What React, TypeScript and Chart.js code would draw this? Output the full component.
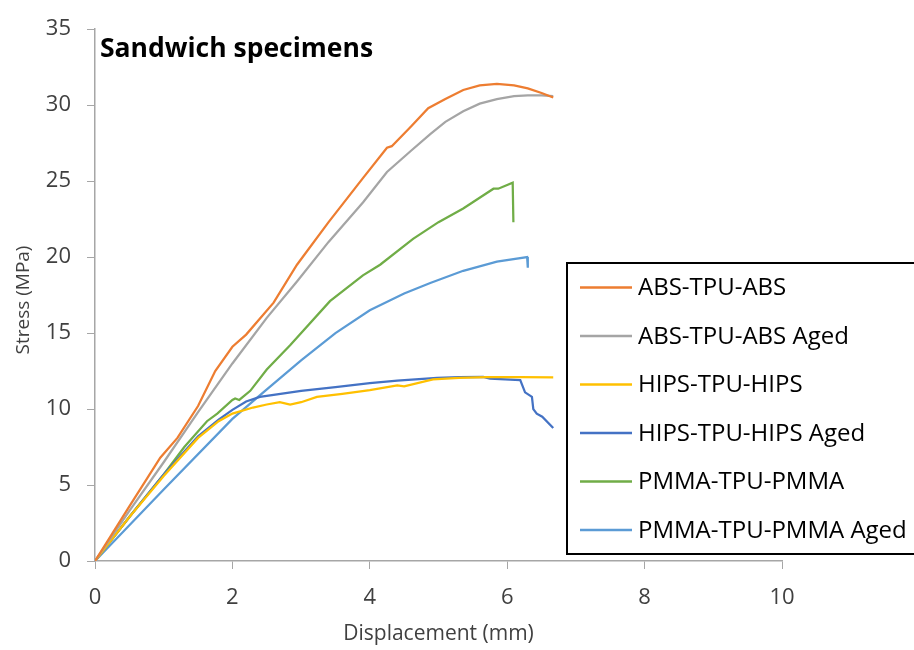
import React, { useEffect, useRef } from "react";
import { Chart, registerables } from "chart.js";

Chart.register(...registerables);

const SERIES_LABELS = [
  "ABS-TPU-ABS",
  "ABS-TPU-ABS Aged",
  "HIPS-TPU-HIPS",
  "HIPS-TPU-HIPS Aged",
  "PMMA-TPU-PMMA",
  "PMMA-TPU-PMMA Aged",
];

const ABS_X = [0, 0.5, 0.95, 1.2, 1.5, 1.75, 2.0, 2.2, 2.6, 2.94, 3.4, 3.9, 4.25, 4.32, 4.6, 4.85, 5.1, 5.36, 5.6, 5.85, 6.1, 6.3, 6.5, 6.67];
const ABS_Y = [0, 3.6, 6.8, 8.1, 10.2, 12.5, 14.1, 14.9, 17.0, 19.5, 22.3, 25.2, 27.2, 27.3, 28.6, 29.8, 30.4, 31.0, 31.3, 31.4, 31.3, 31.1, 30.8, 30.5];

const ABS_AGED_X = [0, 0.5, 1.0, 1.5, 2.0, 2.5, 2.94, 3.4, 3.9, 4.25, 4.6, 4.88, 5.1, 5.36, 5.6, 5.85, 6.1, 6.3, 6.5, 6.67];
const ABS_AGED_Y = [0, 3.3, 6.5, 9.8, 13.0, 16.0, 18.4, 21.0, 23.6, 25.6, 27.0, 28.1, 28.9, 29.6, 30.1, 30.4, 30.6, 30.65, 30.65, 30.6];

const HIPS_X = [0, 0.5, 1.0, 1.5, 1.8, 2.0, 2.3, 2.5, 2.69, 2.84, 3.0, 3.23, 3.6, 4.0, 4.4, 4.5, 4.92, 5.3, 5.7, 6.2, 6.67];
const HIPS_Y = [0, 2.9, 5.6, 8.1, 9.2, 9.7, 10.1, 10.3, 10.45, 10.3, 10.45, 10.8, 11.0, 11.25, 11.55, 11.5, 11.95, 12.05, 12.1, 12.1, 12.08];

const HIPS_AGED_X = [0, 0.5, 1.0, 1.5, 1.8, 2.0, 2.2, 2.4, 2.7, 3.0, 3.5, 4.0, 4.4, 4.98, 5.3, 5.65, 5.75, 6.19, 6.26, 6.36, 6.38, 6.43, 6.51, 6.67];
const HIPS_AGED_Y = [0, 2.9, 5.7, 8.2, 9.3, 9.95, 10.5, 10.8, 11.0, 11.2, 11.45, 11.7, 11.87, 12.05, 12.1, 12.12, 12.0, 11.9, 11.1, 10.8, 10.0, 9.7, 9.5, 8.75];

const PMMA_X = [0, 0.5, 1.0, 1.3, 1.63, 1.78, 2.0, 2.04, 2.1, 2.26, 2.5, 2.84, 3.42, 3.9, 4.15, 4.63, 5.0, 5.36, 5.8, 5.87, 6.08, 6.09];
const PMMA_Y = [0, 2.9, 5.7, 7.5, 9.2, 9.7, 10.6, 10.7, 10.6, 11.2, 12.6, 14.2, 17.1, 18.8, 19.5, 21.2, 22.3, 23.2, 24.5, 24.5, 24.9, 22.3];

const PMMA_AGED_X = [0, 1.0, 2.0, 2.45, 3.0, 3.5, 4.0, 4.5, 4.88, 5.36, 5.85, 6.29, 6.3];
const PMMA_AGED_Y = [0, 4.7, 9.35, 11.1, 13.2, 15.0, 16.5, 17.6, 18.3, 19.1, 19.7, 20.0, 19.3];

const COLORS = ["#ED7D31", "#A5A5A5", "#FFC000", "#4472C4", "#70AD47", "#5B9BD5"];

const X_TICKS = [0, 2, 4, 6, 8, 10];
const Y_TICKS = [0, 5, 10, 15, 20, 25, 30, 35];

const TITLE = "Sandwich specimens";
const X_TITLE = "Displacement (mm)";
const Y_TITLE = "Stress (MPa)";

const zip = (xs: number[], ys: number[]) => xs.map((x, i) => ({ x, y: ys[i] }));

const SERIES = [
  zip(ABS_X, ABS_Y),
  zip(ABS_AGED_X, ABS_AGED_Y),
  zip(HIPS_X, HIPS_Y),
  zip(HIPS_AGED_X, HIPS_AGED_Y),
  zip(PMMA_X, PMMA_Y),
  zip(PMMA_AGED_X, PMMA_AGED_Y),
];

const FONT = '"Open Sans", "DejaVu Sans", sans-serif';

const overlayPlugin = {
  id: "overlay",
  afterDraw(chart: any) {
    const ctx = chart.ctx;
    const area = chart.chartArea;
    ctx.save();
    // title inside plot area
    ctx.fillStyle = "#000";
    ctx.font = `bold 26.5px ${FONT}`;
    ctx.textBaseline = "alphabetic";
    ctx.textAlign = "left";
    ctx.fillText(TITLE, area.left + 5, area.top + 28);

    // y axis title
    ctx.save();
    ctx.translate(24, 300);
    ctx.rotate(-Math.PI / 2);
    ctx.fillStyle = "#404040";
    ctx.font = `19px ${FONT}`;
    ctx.textAlign = "center";
    ctx.textBaseline = "middle";
    ctx.fillText(Y_TITLE, 0, 0);
    ctx.restore();

    // legend box
    const x0 = 567, y0 = 263, w = 360, h = 291;
    ctx.fillStyle = "#fff";
    ctx.fillRect(x0, y0, w, h);
    ctx.lineWidth = 2;
    ctx.strokeStyle = "#000";
    ctx.strokeRect(x0, y0, w, h);
    chart.data.datasets.forEach((ds: any, i: number) => {
      const y = y0 + 24.5 + i * 48.5;
      ctx.strokeStyle = ds.borderColor;
      ctx.lineWidth = 2.5;
      ctx.beginPath();
      ctx.moveTo(580, y);
      ctx.lineTo(632, y);
      ctx.stroke();
      ctx.fillStyle = "#000";
      ctx.font = `24px ${FONT}`;
      ctx.textAlign = "left";
      ctx.textBaseline = "middle";
      ctx.fillText(ds.label, 638, y + 1);
    });
    ctx.restore();
  },
};

export default function App() {
  const ref = useRef<HTMLCanvasElement>(null);
  useEffect(() => {
    if (!ref.current) return;
    const chart = new Chart(ref.current, {
      type: "scatter",
      data: {
        datasets: SERIES.map((d, i) => ({
          label: SERIES_LABELS[i],
          data: d,
          showLine: true,
          borderColor: COLORS[i],
          backgroundColor: COLORS[i],
          borderWidth: 2.25,
          pointRadius: 0,
          tension: 0,
        })),
      },
      options: {
        responsive: false,
        animation: false,
        layout: { padding: { left: 0, top: 22, right: 132, bottom: 0 } },
        plugins: { legend: { display: false }, tooltip: { enabled: false }, title: { display: false } },
        scales: {
          x: {
            type: "linear",
            min: 0,
            max: 10,
            afterBuildTicks: (s: any) => { s.ticks = X_TICKS.map((v) => ({ value: v })); },
            afterFit: (s: any) => { s.height = 89; },
            grid: { drawOnChartArea: false, drawTicks: true, tickLength: 8, color: "#a6a6a6" },
            border: { color: "#a6a6a6", width: 1.5 },
            ticks: { color: "#404040", font: { family: FONT, size: 22 }, padding: 16 },
            title: { display: true, text: X_TITLE, color: "#404040", font: { family: FONT, size: 21 }, padding: { top: 0, bottom: 3 } },
          },
          y: {
            type: "linear",
            min: 0,
            max: 35,
            afterBuildTicks: (s: any) => { s.ticks = Y_TICKS.map((v) => ({ value: v })); },
            afterFit: (s: any) => { s.width = 95; },
            grid: { drawOnChartArea: false, drawTicks: true, tickLength: 8, color: "#a6a6a6" },
            border: { color: "#a6a6a6", width: 1.5 },
            ticks: { color: "#404040", font: { family: FONT, size: 22 }, padding: 16 },
            title: { display: false },
          },
        },
      },
      plugins: [overlayPlugin],
    });
    return () => chart.destroy();
  }, []);
  return (
    <div style={{ position: "fixed", left: 0, top: 0, width: 914, height: 650, background: "#fff" }}>
      <canvas ref={ref} width={914} height={650} style={{ display: "block" }} />
    </div>
  );
}
